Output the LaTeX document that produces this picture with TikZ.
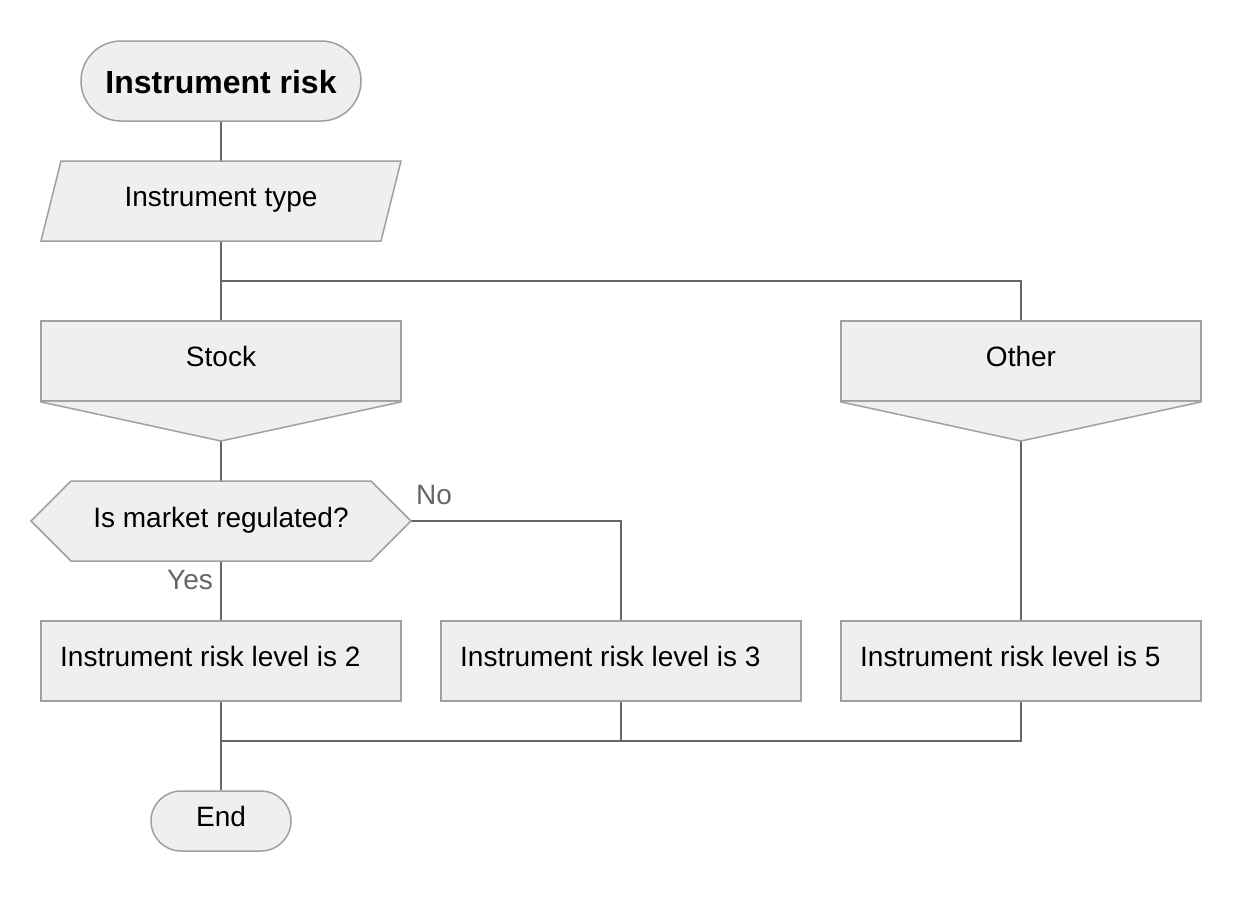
\documentclass[tikz,border=0pt]{standalone}
\usepackage{fontspec}
\setmainfont{Liberation Sans}
\definecolor{boxfill}{HTML}{EEEFF1}
\definecolor{boxline}{HTML}{A0A0A0}
\definecolor{connclr}{HTML}{666666}
\tikzset{
  shapebox/.style={fill=boxfill,draw=boxline,line width=1.5pt},
  rectbox/.style={shapebox,rectangle,inner sep=0pt,minimum width=360pt,minimum height=80pt},
  connector/.style={draw=connclr,line width=1.5pt},
  txt/.style={font=\fontsize{28}{34}\selectfont,anchor=base,inner sep=0pt,text=black},
  lbl/.style={font=\fontsize{28}{34}\selectfont,anchor=base,inner sep=0pt,text=connclr},
}
\begin{document}
\begin{tikzpicture}[x=1pt,y=-1pt]
\useasboundingbox[fill=white] (0,0) rectangle (1240,900);
% named points
\coordinate (typeT) at (221,161);
\coordinate (typeB) at (221,241);
\coordinate (split) at (221,281);
\coordinate (splitR) at (1021,281);
\coordinate (stockTip) at (221,441);
\coordinate (otherTip) at (1021,441);
\coordinate (hexT) at (221,481);
\coordinate (hexB) at (221,561);
\coordinate (hexR) at (411,521);
\coordinate (noCorner) at (621,521);
\coordinate (joinL) at (221,741);
\coordinate (joinM) at (621,741);
\coordinate (joinR) at (1021,741);
% boxes
\node[rectbox] (stock) at (221,361) {};
\node[rectbox] (other) at (1021,361) {};
\node[rectbox] (lvl2) at (221,661) {};
\node[rectbox] (lvl3) at (621,661) {};
\node[rectbox] (lvl5) at (1021,661) {};
\node[shapebox,rectangle,rounded corners=40pt,inner sep=0pt,minimum width=280pt,minimum height=80pt] (start) at (221,81) {};
\node[shapebox,rectangle,rounded corners=30pt,inner sep=0pt,minimum width=140pt,minimum height=60pt] (end) at (221,821) {};
% connectors
\draw[connector] (start.south) -- (typeT);
\draw[connector] (typeB) -- (stock.north);
\draw[connector] (split) -- (splitR) -- (other.north);
\draw[connector] (stockTip) -- (hexT);
\draw[connector] (hexB) -- (lvl2.north);
\draw[connector] (hexR) -- (noCorner) -- (lvl3.north);
\draw[connector] (otherTip) -- (lvl5.north);
\draw[connector] (lvl2.south) -- (end.north);
\draw[connector] (lvl3.south) -- (joinM);
\draw[connector] (lvl5.south) -- (joinR) -- (joinL);
% other shapes
\draw[shapebox] (61,161) -- (401,161) -- (381,241) -- (41,241) -- cycle;
\draw[shapebox] (stock.south west) -- (stockTip) -- (stock.south east);
\draw[shapebox] (other.south west) -- (otherTip) -- (other.south east);
\draw[shapebox] (31,521) -- (71,481) -- (371,481) -- (411,521) -- (371,561) -- (71,561) -- cycle;
% texts
\node[txt,font=\fontsize{32}{38}\selectfont\bfseries] (tStart) at (221,93) {Instrument risk};
\node[txt] (tType) at (221,206) {Instrument type};
\node[txt] (tStock) at (221,366) {Stock};
\node[txt] (tOther) at (1021,366) {Other};
\node[txt] (tHex) at (221,527) {Is market regulated?};
\node[lbl,anchor=base west] (tNo) at (416,504) {No};
\node[lbl,anchor=base east] (tYes) at (213,589) {Yes};
\node[txt,anchor=base west] (t2) at (60,666) {Instrument risk level is 2};
\node[txt,anchor=base west] (t3) at (460,666) {Instrument risk level is 3};
\node[txt,anchor=base west] (t5) at (860,666) {Instrument risk level is 5};
\node[txt] (tEnd) at (221,826) {End};
\end{tikzpicture}
\end{document}
